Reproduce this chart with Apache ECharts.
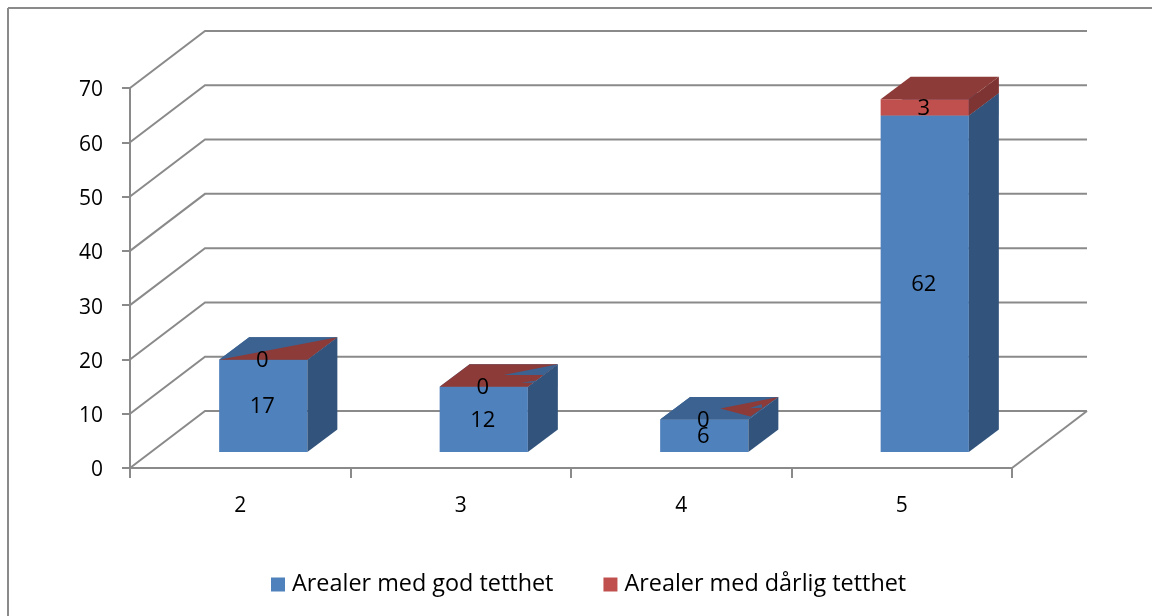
<!DOCTYPE html>
<html><head><meta charset="utf-8">
<style>html,body{margin:0;padding:0;background:#fff}#c{width:1152px;height:616px}</style>
<script src="https://cdn.jsdelivr.net/npm/echarts@6/dist/echarts.min.js"></script>
</head><body><div id="c"></div>
<script>
const categories = ['2','3','4','5'];
const godTetthet = [17,12,6,62];
const darligTetthet = [0,0,0,3];
const yTicks = [0,10,20,30,40,50,60,70];
const seriesNames = ['Arealer med god tetthet','Arealer med dårlig tetthet'];

const FONT = '"Open Sans"';
const AXIS = '#8a8a8a';
const C = {
  blue:{front:'#4f81bd',side:'#32547c',top:'#3b6291'},
  red:{front:'#c0504d',side:'#7e3432',top:'#8c3b38'}
};
const WALL = [75,-57];      // depth of the plot box in px
const BAR_DEPTH = [30,-22.5];
const BAR_SHIFT = [23,-16];

// overlap pattern of the two coplanar tops where the upper value is 0, in face fractions (u along width, v into depth)
const topOverlap = [
  {base:'blue', patches:[{color:'red',pts:[[0,0],[1,0],[1,1]]}]},
  {base:'red', patches:[
    {color:'blue',pts:[[0.545,0.53],[1,1],[1,0.53]]},
    {color:'blue',pts:[[0.86,0.18],[1,0.18],[1,0.28]]}]},
  {base:'blue', patches:[
    {color:'red',pts:[[0.515,0.49],[1,1],[0.98,0.13]]},
    {color:'blue',pts:[[0.84,0.5],[0.98,0.52],[0.92,0.68]]}]}
];

const chart = echarts.init(document.getElementById('c'),null,{renderer:'canvas'});

function poly(points,fill,z2){return {type:'polygon',z2:z2||0,shape:{points},style:{fill}};}
function add(p,d){return [p[0]+d[0],p[1]+d[1]];}

function renderWall(params,api){
  const v = api.value(0);
  const a = api.coord([0,v]);
  const left = params.coordSys.x, right = params.coordSys.x+params.coordSys.width;
  const p0 = [left,a[1]], p1 = add(p0,WALL), p2 = [right+WALL[0],p1[1]];
  const children = [{type:'polyline',shape:{points:[p0,p1,p2]},style:{stroke:AXIS,lineWidth:2,fill:null}}];
  if(v===0) children.push({type:'line',shape:{x1:right,y1:a[1],x2:p2[0],y2:p2[1]},style:{stroke:AXIS,lineWidth:2}});
  return {type:'group',children};
}

function renderBar(pal,isTop){
  return function(params,api){
    const i = api.value(0), val = api.value(1), base = api.value(2);
    const c0 = api.coord([i,base]), c1 = api.coord([i,base+val]);
    const w = api.size([1,0])[0]*0.4;
    const xl = c0[0]-w/2+BAR_SHIFT[0], xr = xl+w;
    const yb = c0[1]+BAR_SHIFT[1], yt = c1[1]+BAR_SHIFT[1];
    const children = [];
    const a=[xl,yb],b=[xr,yb],c=[xr,yt],d=[xl,yt];
    children.push(poly([a,b,c,d],pal.front));
    children.push(poly([b,add(b,BAR_DEPTH),add(c,BAR_DEPTH),c],pal.side));
    const ov = val===0 ? topOverlap[i] : null;
    const topFill = ov ? C[ov.base].top : pal.top;
    if(val>0 || isTop){
      children.push(poly([d,c,add(c,BAR_DEPTH),add(d,BAR_DEPTH)],topFill));
      if(ov) ov.patches.forEach(p=>{
        children.push(poly(p.pts.map(q=>[xl+q[0]*w+q[1]*BAR_DEPTH[0],yt+q[1]*BAR_DEPTH[1]]),C[p.color].top));
      });
    }
    children.push({type:'text',z2:10,style:{text:String(val),x:(xl+xr)/2-1,y:(yb+yt)/2+1,align:'center',verticalAlign:'middle',font:'22px '+FONT,fill:'#000'}});
    return {type:'group',children};
  };
}

chart.setOption({
  animation:false,
  backgroundColor:'#fff',
  grid:{left:130,right:140,top:88,bottom:148},
  xAxis:{type:'category',data:categories,boundaryGap:true,
    axisLine:{lineStyle:{color:AXIS,width:2}},
    axisTick:{show:true,alignWithLabel:false,length:10,lineStyle:{color:AXIS,width:2}},
    axisLabel:{color:'#000',fontFamily:FONT,fontSize:21,margin:28},splitLine:{show:false}},
  yAxis:{type:'value',min:0,max:70,interval:10,
    axisLine:{show:true,lineStyle:{color:AXIS,width:2}},
    axisTick:{show:true,length:8,lineStyle:{color:AXIS,width:2}},
    axisLabel:{margin:27,formatter:'{t|{value}}',
      rich:{t:{color:'#000',fontFamily:FONT,fontSize:21,padding:[5,0,0,0]}}},splitLine:{show:false}},
  legend:{data:seriesNames,left:266,top:568,icon:'rect',itemWidth:14,itemHeight:14,itemGap:50,
    textStyle:{color:'#000',fontFamily:FONT,fontSize:23.4,padding:[0,0,0,2]}},
  graphic:[
    {type:'line',shape:{x1:8,y1:8,x2:1152,y2:8},style:{stroke:AXIS,lineWidth:2},z:-1},
    {type:'line',shape:{x1:8,y1:8,x2:8,y2:616},style:{stroke:AXIS,lineWidth:2},z:-1}
  ],
  series:[
    {type:'custom',silent:true,clip:false,z:1,data:yTicks.map(v=>[v]),encode:{y:0},renderItem:renderWall,legendHoverLink:false},
    {type:'custom',name:seriesNames[0],clip:false,z:2,itemStyle:{color:C.blue.front},
      data:godTetthet.map((v,i)=>[i,v,0]),encode:{x:0,y:1},renderItem:renderBar(C.blue,false)},
    {type:'custom',name:seriesNames[1],clip:false,z:3,itemStyle:{color:C.red.front},
      data:darligTetthet.map((v,i)=>[i,v,godTetthet[i]]),encode:{x:0,y:1},renderItem:renderBar(C.red,true)}
  ]
});
</script></body></html>
